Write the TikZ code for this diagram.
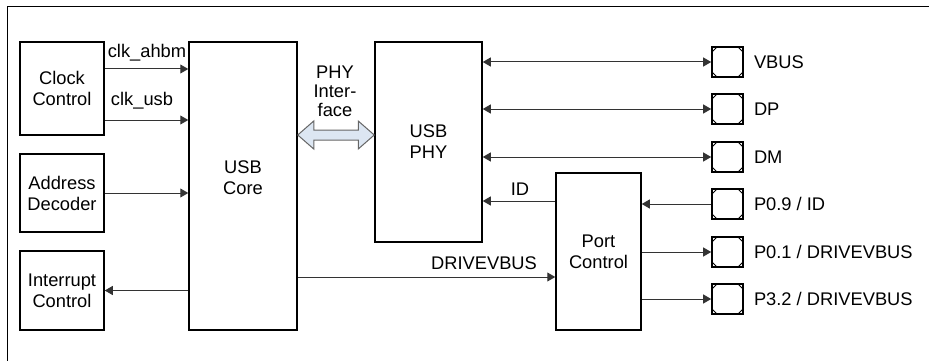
\documentclass[tikz,border=0pt]{standalone}
\usepackage{fontspec}
\setmainfont{Liberation Sans}
\usetikzlibrary{arrows.meta,calc}
\definecolor{ifblue}{RGB}{220,230,242}
\tikzset{
  blk/.style={draw=black, line width=1.5pt, minimum width=#1, inner sep=0pt, align=center},
  conn/.style={draw=black!80, line width=1pt},
  arr/.style={conn, -{Triangle[length=8pt,width=9pt]}},
  darr/.style={conn, {Triangle[length=8pt,width=9pt]}-{Triangle[length=8pt,width=9pt]}},
  lbl/.style={inner sep=0pt, align=center},
  pad/.style={draw=black, line width=1.6pt, minimum width=31pt, minimum height=30pt, inner sep=0pt,
    path picture={
      \draw[line width=0.9pt] ([yshift=-5pt]path picture bounding box.north west) -- ++(5pt,5pt);
      \draw[line width=0.9pt] ([yshift=-5pt]path picture bounding box.north east) -- ++(-5pt,5pt);
      \draw[line width=0.9pt] ([yshift=5pt]path picture bounding box.south west) -- ++(5pt,-5pt);
      \draw[line width=0.9pt] ([yshift=5pt]path picture bounding box.south east) -- ++(-5pt,-5pt);
    }},
  padlbl/.style={anchor=west, inner sep=0pt}
}
\begin{document}
\begin{tikzpicture}[x=1pt, y=-1pt, font=\fontsize{18.3}{21}\selectfont]
\useasboundingbox (0,0) rectangle (929,361);
% frame
\coordinate (ftl) at (7,7);
\draw[line width=1pt] (ftl |- 0,361) -- (ftl) -- (ftl -| 929,0);

% blocks
\node[blk=84pt, minimum height=93pt] (clock) at (62,88.5) {Clock\\Control};
\node[blk=84pt, minimum height=78pt] (addr) at (62,193) {Address\\Decoder};
\node[blk=84pt, minimum height=79pt] (intr) at (62,290.5) {Interrupt\\Control};
\node[blk=108pt, minimum height=288pt] (core) at (243,186) {};
\node[lbl] at ([yshift=8pt]core.center) {USB\\Core};
\node[blk=107pt, minimum height=200pt] (phy) at (428.5,142) {USB\\PHY};
\node[blk=85pt, minimum height=157pt] (port) at (598.5,251.5) {Port\\Control};

% pads
\node[pad] (vbus) at (727.5,62) {};
\node[pad] (dp) at (727.5,109) {};
\node[pad] (dm) at (727.5,157) {};
\node[pad] (p09) at (727.5,204) {};
\node[pad] (p01) at (727.5,252) {};
\node[pad] (p32) at (727.5,299) {};
\node[padlbl] (lvbus) at ([xshift=10pt]vbus.east) {VBUS};
\node[padlbl] (ldp) at ([xshift=10pt]dp.east) {DP};
\node[padlbl] (ldm) at ([xshift=10pt]dm.east) {DM};
\node[padlbl] (lp09) at ([xshift=10pt]p09.east) {P0.9 / ID};
\node[padlbl] (lp01) at ([xshift=10pt]p01.east) {P0.1 / DRIVEVBUS};
\node[padlbl] (lp32) at ([xshift=10pt]p32.east) {P3.2 / DRIVEVBUS};

% clock arrows
\coordinate (ca) at ([yshift=19.5pt]clock.east);
\coordinate (cu) at ([yshift=-31.5pt]clock.east);
\draw[arr] (ca) -- (ca -| core.west);
\draw[arr] (cu) -- (cu -| core.west);
\node[lbl] (lahbm) at (147,53) {clk\_ahbm};
\node[lbl] (lusb) at (142,101) {clk\_usb};
% address / interrupt
\draw[arr] (addr.east) -- (addr.east -| core.west);
\draw[arr] (intr.east -| core.west) -- (intr.east);

% PHY interface double arrow
\coordinate (L) at ([yshift=7pt]phy.west -| core.east);
\coordinate (R) at ([yshift=7pt]phy.west);
\draw[draw=black!60, fill=ifblue, line width=1pt]
  (L) -- ($(L)+(16,-14)$) -- ($(L)+(16,-5)$) -- ($(R)+(-16,-5)$) -- ($(R)+(-16,-14)$)
  -- (R) -- ($(R)+(-16,14)$) -- ($(R)+(-16,5)$) -- ($(L)+(16,5)$) -- ($(L)+(16,14)$) -- cycle;
\node[lbl, font=\fontsize{18.3}{19}\selectfont] (phyif) at (335,91) {PHY\\Inter-\\face};

% PHY to pads
\draw[darr] (vbus.west -| phy.east) -- (vbus.west);
\draw[darr] (dp.west -| phy.east) -- (dp.west);
\draw[darr] (dm.west -| phy.east) -- (dm.west);

% ID
\coordinate (idp) at ([yshift=50.5pt]port.west);
\draw[arr] (idp) -- (idp -| phy.east);
\node[lbl] (lid) at (520,189) {ID};

% DRIVEVBUS
\coordinate (dv) at ([yshift=-25.5pt]port.west);
\draw[arr] (dv -| core.east) -- (dv);
\node[lbl] (ldv) at (484,263) {DRIVEVBUS};

% port to pads
\draw[arr] (p09.west) -- (p09.west -| port.east);
\draw[arr] (p01.west -| port.east) -- (p01.west);
\draw[arr] (p32.west -| port.east) -- (p32.west);
\end{tikzpicture}
\end{document}
